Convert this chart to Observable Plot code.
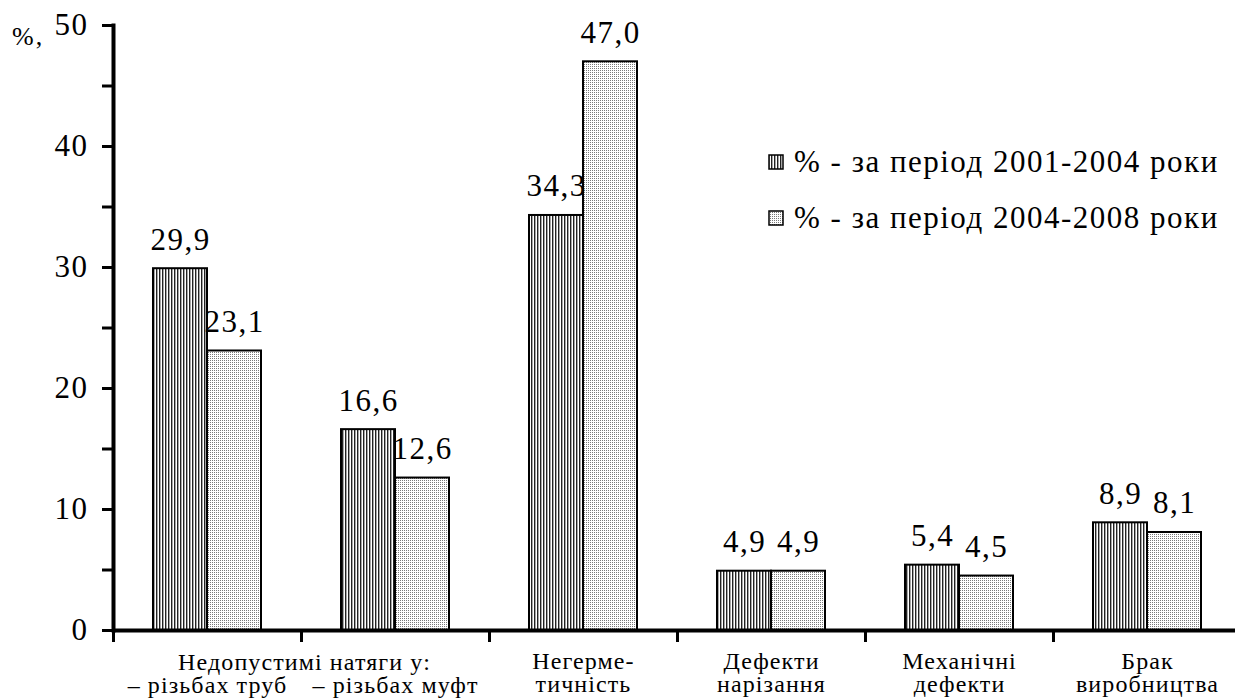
<!DOCTYPE html>
<html>
<head>
<meta charset="utf-8">
<script src="https://cdn.jsdelivr.net/npm/d3@7"></script>
<script src="https://cdn.jsdelivr.net/npm/@observablehq/plot@0.6"></script>
<style>
  html, body { margin: 0; padding: 0; background: #fff; }
  #wrap { position: relative; width: 1235px; height: 700px; font-family: "Liberation Serif", "Times New Roman", serif; color: #000; }
  #wrap svg text { letter-spacing: 1.5px; }
  #wrap g[font-size="24"] text { letter-spacing: 1.1px; }
  .ylab { position: absolute; left: 12px; top: 24px; font-size: 26px; line-height: 1; letter-spacing: 2px; }
  .legend { position: absolute; left: 768px; top: 0; font-size: 31px; letter-spacing: 1.5px; }
  .legend .row { position: absolute; left: 0; white-space: nowrap; line-height: 1; display: flex; align-items: center; }
  .legend svg { margin-right: 10px; }
</style>
</head>
<body>
<svg width="0" height="0" style="position:absolute">
  <defs>
    <pattern id="vlines" width="3" height="4" patternUnits="userSpaceOnUse">
      <rect width="3" height="4" fill="#fff"/>
      <rect x="0" y="0" width="1.4" height="4" fill="#222"/>
    </pattern>
    <pattern id="dots" width="2" height="2" patternUnits="userSpaceOnUse">
      <rect width="2" height="2" fill="#fff"/>
      <rect x="0" y="0" width="1" height="1" fill="#7a7a7a"/>
    </pattern>
  </defs>
</svg>
<div id="wrap">
  <div class="ylab">%,</div>
  <div class="legend">
    <div class="row" style="top:146px"><svg width="16" height="16"><rect x="1" y="1" width="14" height="14" fill="url(#vlines)" stroke="#000" stroke-width="1.5"/></svg>% - за період 2001-2004 роки</div>
    <div class="row" style="top:202px"><svg width="16" height="16"><rect x="1" y="1" width="14" height="14" fill="url(#dots)" stroke="#000" stroke-width="1.5"/></svg>% - за період 2004-2008 роки</div>
  </div>
</div>
<script>
// ---- data ----
const categories = ["труби", "муфти", "негерметичність", "нарізання", "механічні", "брак"];
const period2001_2004 = [29.9, 16.6, 34.3, 4.9, 5.4, 8.9];
const period2004_2008 = [23.1, 12.6, 47.0, 4.9, 4.5, 8.1];
const labelLine1 = ["", "", "Негерме-", "Дефекти", "Механічні", "Брак"];
const labelLine2 = ["– різьбах труб", "– різьбах муфт", "тичність", "нарізання", "дефекти", "виробництва"];
const groupHeader = "Недопустимі натяги у:";
const yMajorTicks = [0, 10, 20, 30, 40, 50];
const yMinorTicks = [5, 15, 25, 35, 45];

const rows = categories.map((c, i) => ({
  key: c, v1: period2001_2004[i], v2: period2004_2008[i],
  l1: labelLine1[i], l2: labelLine2[i]
}));
const fmt = v => v.toFixed(1).replace(".", ",");
const font = "'Liberation Serif', 'Times New Roman', serif";

const chart = Plot.plot({
  width: 1235,
  height: 700,
  marginLeft: 113,
  marginRight: 0,
  marginTop: 25,
  marginBottom: 70,
  style: { fontFamily: font, fontSize: "31px", color: "#000", background: "transparent", overflow: "visible" },
  x: { type: "band", domain: categories, range: [113, 1241], padding: 0 },
  y: { domain: [0, 50] },
  marks: [
    Plot.barY(rows, { x: "key", y: "v1", fill: "url(#vlines)", stroke: "#000", strokeWidth: 2, insetLeft: 40, insetRight: 94 }),
    Plot.barY(rows, { x: "key", y: "v2", fill: "url(#dots)", stroke: "#000", strokeWidth: 2, insetLeft: 94, insetRight: 40 }),
    Plot.text(rows, { x: "key", y: "v1", text: d => fmt(d.v1), dx: -27, dy: -19, lineAnchor: "bottom", fontSize: 31, fill: "#000" }),
    Plot.text(rows, { x: "key", y: "v2", text: d => fmt(d.v2), dx: 27, dy: -19, lineAnchor: "bottom", fontSize: 31, fill: "#000" }),
    Plot.ruleY([0], { stroke: "#000", strokeWidth: 4 }),
    Plot.frame({ anchor: "left", stroke: "#000", strokeWidth: 4 }),
    Plot.axisY({ ticks: yMajorTicks, tickSize: 11, tickPadding: 14, strokeWidth: 3, fontSize: 31, label: null }),
    Plot.axisY({ ticks: yMinorTicks, tickSize: 11, tickFormat: () => "", strokeWidth: 3, label: null }),
    Plot.axisX({ tickSize: 12, tickFormat: () => "", dx: -94, strokeWidth: 3, label: null }),
    // two-line category labels
    Plot.text(rows, { filter: d => d.l1, x: "key", text: d => d.l1 + "\n" + d.l2, frameAnchor: "bottom", lineAnchor: "top", lineHeight: 0.96, dy: 22, fontSize: 24, fill: "#000" }),
    // second-line-only labels (under the shared header)
    Plot.text(rows, { filter: d => !d.l1, x: "key", text: "l2", frameAnchor: "bottom", lineAnchor: "top", dy: 45, fontSize: 24, fill: "#000" }),
    Plot.text([categories[1]], { x: d => d, text: () => groupHeader, dx: -91, frameAnchor: "bottom", lineAnchor: "top", dy: 22, fontSize: 24, fill: "#000" })
  ]
});
document.getElementById("wrap").prepend(chart);
chart.style.position = "absolute";
chart.style.left = "0";
chart.style.top = "0";
</script>
</body>
</html>
